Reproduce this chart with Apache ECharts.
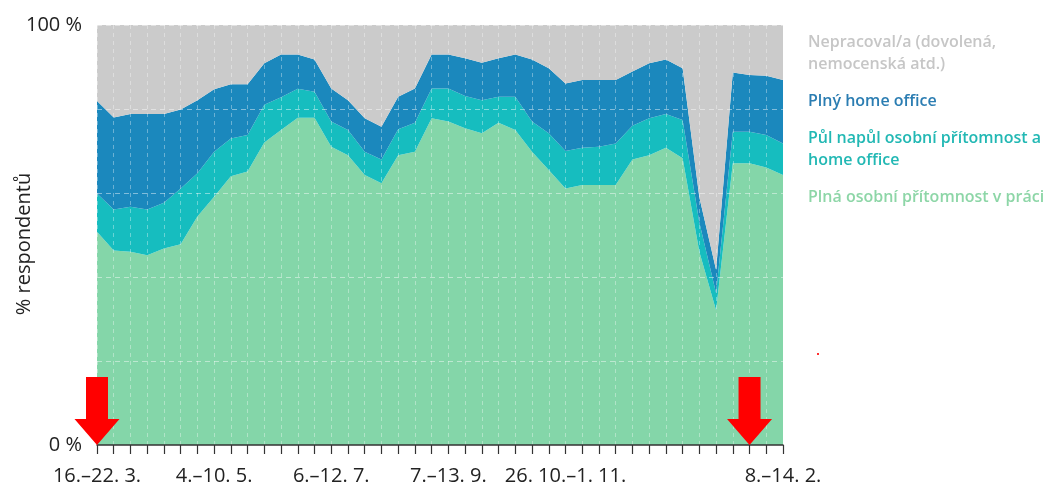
<!DOCTYPE html>
<html><head><meta charset="utf-8">
<script src="https://cdn.jsdelivr.net/npm/echarts@6/dist/echarts.min.js"></script>
<style>html,body{margin:0;padding:0;background:#fff}#c{width:1054px;height:486px}</style>
</head><body><div id="c"></div>
<script>
// survey waves (42 points), x tick labels at selected waves
const waves = ['1','2','3','4','5','6','7','8','9','10','11','12','13','14','15','16','17','18','19','20','21',
  '22','23','24','25','26','27','28','29','30','31','32','33','34','35','36','37','38','39','40','41','42'];
const tickIndex = [0, 7, 14, 21, 28, 41];
const tickText = ['16.–22. 3.', '4.–10. 5.', '6.–12. 7.', '7.–13. 9.', '26. 10.–1. 11.', '8.–14. 2.'];
const arrowIndex = [0, 39];

const seriesNames = ['Plná osobní přítomnost v práci', 'Půl napůl osobní přítomnost a home office', 'Plný home office', 'Nepracoval/a (dovolená, nemocenská atd.)'];
const legendText = ['Plná osobní přítomnost v práci', 'Půl napůl osobní přítomnost a\nhome office', 'Plný home office', 'Nepracoval/a (dovolená,\nnemocenská atd.)'];

// % of respondents per wave
const fullOffice = [50.8,46.3,46.0,45.2,46.8,47.8,54.4,59.1,64.0,65.1,72.0,75.0,77.9,77.9,71.0,69.0,64.3,62.3,69.0,69.8,77.8,
  77.0,75.4,74.2,76.7,75.0,69.8,65.5,61.1,61.9,61.9,61.9,68.0,69.0,70.8,68.3,46.0,32.1,67.1,67.1,66.1,64.3];
const halfHalf = [9.1,9.8,10.7,10.9,10.9,13.3,10.3,10.7,9.0,8.7,9.0,7.8,6.9,6.2,6.0,6.0,5.5,5.7,6.2,6.9,7.1,
  7.9,7.7,7.9,6.2,7.9,7.2,8.7,8.9,8.9,9.1,9.9,8.0,8.8,8.0,9.1,7.0,4.1,7.5,7.5,7.7,7.5];
const fullHome = [22.0,21.9,22.1,22.7,21.1,18.8,17.4,14.9,12.9,12.1,9.9,10.2,8.2,7.7,7.9,7.1,8.0,7.8,7.7,8.2,8.1,
  8.1,9.0,8.9,9.2,10.1,14.8,15.5,16.1,16.1,15.9,15.1,12.9,13.1,13.0,12.3,6.0,5.5,14.1,13.5,14.1,15.1];
const notWorking = [18.1,22.0,21.2,21.2,21.2,20.1,17.9,15.3,14.1,14.1,9.1,7.0,7.0,8.2,15.1,17.9,22.2,24.2,17.1,15.1,7.0,
  7.0,7.9,9.0,7.9,7.0,8.2,10.3,13.9,13.1,13.1,13.1,11.1,9.1,8.2,10.3,41.0,58.3,11.3,11.9,12.1,13.1];

const areaColors = ['#84d6a9', '#16bdbf', '#1b88bd', '#cbcbcb'];
const textColors = ['#8dd6a7', '#22b8b4', '#2b7db2', '#c6c6c6'];
const values = [fullOffice, halfHalf, fullHome, notWorking];

const chart = echarts.init(document.getElementById('c'), null, {renderer: 'canvas'});
const font = '"Open Sans", "Noto Sans", sans-serif';

const series = seriesNames.map((name, k) => ({
  name: name,
  type: 'line',
  stack: 'total',
  data: values[k],
  symbol: 'none',
  lineStyle: {width: 0},
  areaStyle: {color: areaColors[k], opacity: 1},
  itemStyle: {color: areaColors[k]},
  emphasis: {disabled: true},
  silent: true,
  z: 2,
  markPoint: k === 0 ? {
    z: 10,
    silent: true,
    symbol: 'path://M11.5,0 L33.5,0 L33.5,42 L45,42 L22.5,68 L0,42 L11.5,42 Z',
    symbolSize: [45, 68],
    symbolOffset: [0, '-50%'],
    itemStyle: {color: '#ff0000'},
    label: {show: false},
    data: arrowIndex.map(i => ({coord: [i, 0]}))
  } : undefined
}));

chart.setOption({
  animation: false,
  backgroundColor: '#ffffff',
  grid: {left: 97, right: 271, top: 25, bottom: 41, containLabel: false, outerBoundsMode: 'none'},
  legend: {
    orient: 'vertical',
    left: 798,
    top: 26,
    icon: 'none',
    itemWidth: 0,
    itemHeight: 0,
    itemGap: 15,
    selectedMode: false,
    data: seriesNames.slice().reverse().map(n => {
      const k = seriesNames.indexOf(n);
      return {name: n, textStyle: {color: textColors[k]}};
    }),
    formatter: n => legendText[seriesNames.indexOf(n)],
    textStyle: {fontFamily: font, fontSize: 16, fontWeight: 600, lineHeight: 22}
  },
  xAxis: {
    type: 'category',
    data: waves,
    boundaryGap: false,
    z: 4,
    axisLine: {show: true, lineStyle: {color: '#333', width: 1.5}},
    axisTick: {show: true, interval: 0, length: 9, lineStyle: {color: '#333', width: 1.2}},
    axisLabel: {
      interval: 0,
      margin: 21,
      fontFamily: font,
      fontSize: 20,
      color: '#222',
      formatter: (v, i) => {
        const p = tickIndex.indexOf(i);
        return p >= 0 ? tickText[p] : '';
      }
    },
    splitLine: {show: true, interval: 0, lineStyle: {color: 'rgba(255,255,255,0.35)', type: [4, 4], width: 1}}
  },
  yAxis: {
    type: 'value',
    min: 0,
    max: 100,
    interval: 20,
    z: 4,
    name: '% respondentů',
    nameLocation: 'middle',
    nameGap: 63,
    nameMoveOverlap: false,
    nameTextStyle: {fontFamily: font, fontSize: 20, color: '#222', padding: [0, 18, 0, 0]},
    axisLine: {show: false},
    axisTick: {show: false},
    axisLabel: {
      margin: 15,
      fontFamily: font,
      fontSize: 20,
      color: '#222',
      formatter: v => (v === 0 || v === 100) ? v + ' %' : ''
    },
    splitLine: {show: true, lineStyle: {color: 'rgba(255,255,255,0.45)', type: [5, 4], width: 1}}
  },
  series: series,
  graphic: [{type: 'rect', left: 817, top: 353, shape: {width: 2, height: 2}, style: {fill: '#ff3030'}, silent: true}]
});
</script>
</body></html>
